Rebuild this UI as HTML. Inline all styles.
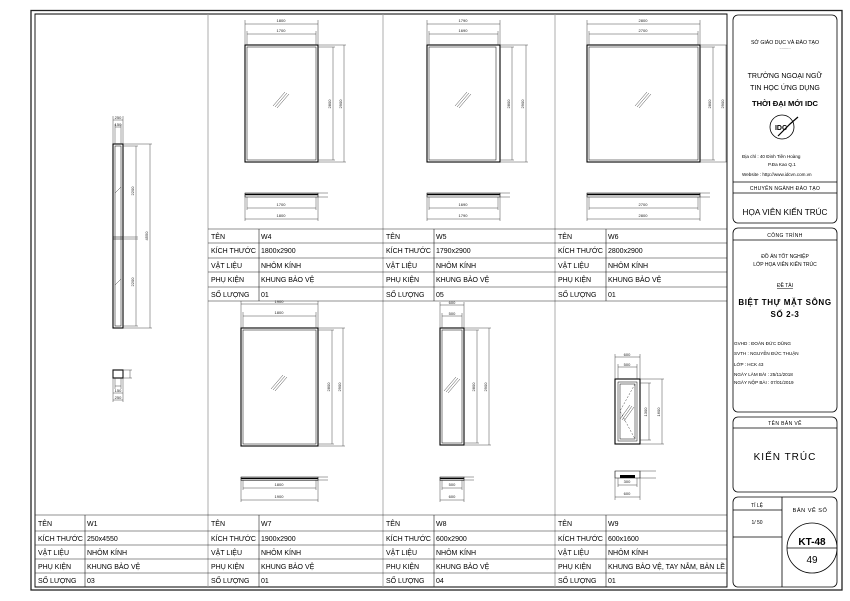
<!DOCTYPE html>
<html><head><meta charset="utf-8"><style>
html,body{margin:0;padding:0;background:#fff}
svg{display:block}
text{font-family:"Liberation Sans",sans-serif;fill:#000}
.t{font-size:7px}
.dm{font-size:4px;fill:#222}
.d{stroke:#333;stroke-width:.45;fill:none}
.f{stroke:#000;stroke-width:1.1;fill:none}
.fi{stroke:#000;stroke-width:.5;fill:none}
.g{stroke:#999;stroke-width:.8;fill:none}
.tl{stroke:#222;stroke-width:.6;fill:none}
.tb{stroke:#000;stroke-width:.9;fill:none}
</style></head><body>
<svg width="850" height="601" viewBox="0 0 850 601" xmlns="http://www.w3.org/2000/svg">
<rect x="0" y="0" width="850" height="601" fill="#fff"/>
<rect x="31" y="10.5" width="811" height="579.5" fill="none" stroke="#222" stroke-width="1.3"/>
<path d="M35 587 V14 H727 V587 Z" class="tb"/>
<path d="M208 14V587 M383 14V587 M555 14V587" class="g"/>
<path d="M208 229H727 M208 243H727 M208 258H727 M208 272H727 M208 287H727 M208 301H727 M259 229V301 M434 229V301 M606 229V301" class="tl"/>
<path d="M35 515H727 M35 531H727 M35 545H727 M35 559H727 M35 573H727 M85 515V587 M259 515V587 M434 515V587 M606 515V587" class="tl"/>
<g class="t">
<text x="211" y="239">TÊN</text><text x="261" y="239">W4</text>
<text x="211" y="253">KÍCH THƯỚC</text><text x="261" y="253">1800x2900</text>
<text x="211" y="268">VẬT LIỆU</text><text x="261" y="268">NHÔM KÍNH</text>
<text x="211" y="282">PHỤ KIỆN</text><text x="261" y="282">KHUNG BẢO VỆ</text>
<text x="211" y="297">SỐ LƯỢNG</text><text x="261" y="297">01</text>
<text x="386" y="239">TÊN</text><text x="436" y="239">W5</text>
<text x="386" y="253">KÍCH THƯỚC</text><text x="436" y="253">1790x2900</text>
<text x="386" y="268">VẬT LIỆU</text><text x="436" y="268">NHÔM KÍNH</text>
<text x="386" y="282">PHỤ KIỆN</text><text x="436" y="282">KHUNG BẢO VỆ</text>
<text x="386" y="297">SỐ LƯỢNG</text><text x="436" y="297">05</text>
<text x="558" y="239">TÊN</text><text x="608" y="239">W6</text>
<text x="558" y="253">KÍCH THƯỚC</text><text x="608" y="253">2800x2900</text>
<text x="558" y="268">VẬT LIỆU</text><text x="608" y="268">NHÔM KÍNH</text>
<text x="558" y="282">PHỤ KIỆN</text><text x="608" y="282">KHUNG BẢO VỆ</text>
<text x="558" y="297">SỐ LƯỢNG</text><text x="608" y="297">01</text>

<text x="38" y="526">TÊN</text><text x="87" y="526">W1</text>
<text x="38" y="541">KÍCH THƯỚC</text><text x="87" y="541">250x4550</text>
<text x="38" y="555">VẬT LIỆU</text><text x="87" y="555">NHÔM KÍNH</text>
<text x="38" y="569">PHỤ KIỆN</text><text x="87" y="569">KHUNG BẢO VỆ</text>
<text x="38" y="583">SỐ LƯỢNG</text><text x="87" y="583">03</text>
<text x="211" y="526">TÊN</text><text x="261" y="526">W7</text>
<text x="211" y="541">KÍCH THƯỚC</text><text x="261" y="541">1900x2900</text>
<text x="211" y="555">VẬT LIỆU</text><text x="261" y="555">NHÔM KÍNH</text>
<text x="211" y="569">PHỤ KIỆN</text><text x="261" y="569">KHUNG BẢO VỆ</text>
<text x="211" y="583">SỐ LƯỢNG</text><text x="261" y="583">01</text>
<text x="386" y="526">TÊN</text><text x="436" y="526">W8</text>
<text x="386" y="541">KÍCH THƯỚC</text><text x="436" y="541">600x2900</text>
<text x="386" y="555">VẬT LIỆU</text><text x="436" y="555">NHÔM KÍNH</text>
<text x="386" y="569">PHỤ KIỆN</text><text x="436" y="569">KHUNG BẢO VỆ</text>
<text x="386" y="583">SỐ LƯỢNG</text><text x="436" y="583">04</text>
<text x="558" y="526">TÊN</text><text x="608" y="526">W9</text>
<text x="558" y="541">KÍCH THƯỚC</text><text x="608" y="541">600x1600</text>
<text x="558" y="555">VẬT LIỆU</text><text x="608" y="555">NHÔM KÍNH</text>
<text x="558" y="569">PHỤ KIỆN</text><text x="608" y="569" textLength="117" lengthAdjust="spacingAndGlyphs">KHUNG BẢO VỆ, TAY NẮM, BẢN LỀ</text>
<text x="558" y="583">SỐ LƯỢNG</text><text x="608" y="583">01</text>
</g>

<!-- W4 -->
<rect x="245" y="45" width="73" height="117" class="f"/><rect x="247" y="47" width="69" height="113" class="fi"/>
<path d="M275 107L287 93 M277 108L289 94 M273 106L285 92" class="d"/>
<path d="M245 20V45 M318 20V45 M247 31V45 M316 31V45 M245 24H318 M247 34H316 M318 45H346 M318 47H335 M318 160H335 M318 162H346 M333 47V160 M344 45V162" class="d"/>
<text class="dm" x="281" y="22" text-anchor="middle">1800</text><text class="dm" x="281" y="32" text-anchor="middle">1700</text>
<text class="dm" x="331" y="104" text-anchor="middle" transform="rotate(-90 331 104)">2800</text><text class="dm" x="342" y="104" text-anchor="middle" transform="rotate(-90 342 104)">2900</text>
<rect x="245" y="193" width="73" height="4" class="fi"/><path d="M245 194.5H318" stroke="#000" stroke-width="1.5"/>
<path d="M245 193V221 M318 193V221 M247 197V210 M316 197V210 M247 208H316 M245 219H318 M318 193H328 M318 197H328" class="d"/>
<text class="dm" x="281" y="206" text-anchor="middle">1700</text><text class="dm" x="281" y="217" text-anchor="middle">1800</text>

<!-- W5 -->
<rect x="427" y="45" width="73" height="117" class="f"/><rect x="429" y="47" width="67" height="113" class="fi"/>
<path d="M457 107L469 93 M459 108L471 94 M455 106L467 92" class="d"/>
<path d="M427 20V45 M500 20V45 M429 31V45 M498 31V45 M427 24H500 M429 34H498 M500 45H528 M500 47H514 M500 160H514 M500 162H528 M512 47V160 M526 45V162" class="d"/>
<text class="dm" x="463" y="22" text-anchor="middle">1790</text><text class="dm" x="463" y="32" text-anchor="middle">1690</text>
<text class="dm" x="510" y="104" text-anchor="middle" transform="rotate(-90 510 104)">2800</text><text class="dm" x="524" y="104" text-anchor="middle" transform="rotate(-90 524 104)">2900</text>
<rect x="427" y="193" width="73" height="4" class="fi"/><path d="M427 194.5H500" stroke="#000" stroke-width="1.5"/>
<path d="M427 193V221 M500 193V221 M429 197V210 M498 197V210 M429 208H498 M427 219H500 M500 193H510 M500 197H510" class="d"/>
<text class="dm" x="463" y="206" text-anchor="middle">1690</text><text class="dm" x="463" y="217" text-anchor="middle">1790</text>

<!-- W6 -->
<rect x="587" y="45" width="113" height="117" class="f"/><rect x="589" y="47" width="109" height="113" class="fi"/>
<path d="M637 107L649 93 M639 108L651 94 M635 106L647 92" class="d"/>
<path d="M587 20V45 M700 20V45 M589 31V45 M698 31V45 M587 24H700 M589 34H698 M700 45H727 M700 47H715 M700 160H715 M700 162H727 M713 47V160 M726 45V162" class="d"/>
<text class="dm" x="643" y="22" text-anchor="middle">2800</text><text class="dm" x="643" y="32" text-anchor="middle">2700</text>
<text class="dm" x="711" y="104" text-anchor="middle" transform="rotate(-90 711 104)">2800</text><text class="dm" x="724" y="104" text-anchor="middle" transform="rotate(-90 724 104)">2900</text>
<rect x="587" y="193" width="113" height="4" class="fi"/><path d="M587 194.5H700" stroke="#000" stroke-width="1.5"/>
<path d="M587 193V221 M700 193V221 M589 197V210 M698 197V210 M589 208H698 M587 219H700 M700 193H710 M700 197H710" class="d"/>
<text class="dm" x="643" y="206" text-anchor="middle">2700</text><text class="dm" x="643" y="217" text-anchor="middle">2800</text>

<!-- W7 -->
<rect x="241" y="328" width="77" height="118" class="f"/><rect x="243" y="330" width="73" height="114" class="fi"/>
<path d="M273 390L285 376 M275 391L287 377 M271 389L283 375" class="d"/>
<path d="M241 301V328 M318 301V328 M243 312V328 M316 312V328 M241 304H318 M243 316H316 M318 328H345 M318 330H334 M318 444H334 M318 446H345 M332 330V444 M343 328V446" class="d"/>
<text class="dm" x="279" y="303" text-anchor="middle">1900</text><text class="dm" x="279" y="314" text-anchor="middle">1800</text>
<text class="dm" x="330" y="387" text-anchor="middle" transform="rotate(-90 330 387)">2800</text><text class="dm" x="341" y="387" text-anchor="middle" transform="rotate(-90 341 387)">2900</text>
<rect x="241" y="477" width="77" height="3.5" class="fi"/><path d="M241 478.5H318" stroke="#000" stroke-width="1.5"/>
<path d="M241 477V502 M318 477V502 M243 480V490 M316 480V490 M243 488H316 M241 500H318 M318 477H328 M318 480H328" class="d"/>
<text class="dm" x="279" y="486" text-anchor="middle">1800</text><text class="dm" x="279" y="498" text-anchor="middle">1900</text>

<!-- W8 -->
<rect x="440" y="328" width="24" height="117" class="f"/><rect x="442" y="330" width="20" height="113" class="fi"/>
<path d="M446 392L458 378 M448 393L460 379 M444 391L456 377" class="d"/>
<path d="M440 302V328 M464 302V328 M442 313V328 M462 313V328 M440 305H464 M442 316H462 M464 328H491 M464 330H479 M464 443H479 M464 445H491 M477 330V443 M489 328V445" class="d"/>
<text class="dm" x="452" y="304" text-anchor="middle">600</text><text class="dm" x="452" y="315" text-anchor="middle">500</text>
<text class="dm" x="475" y="387" text-anchor="middle" transform="rotate(-90 475 387)">2800</text><text class="dm" x="487" y="387" text-anchor="middle" transform="rotate(-90 487 387)">2900</text>
<rect x="440" y="477" width="24" height="3.5" class="fi"/><path d="M440 478.5H464" stroke="#000" stroke-width="1.5"/>
<path d="M440 477V502 M464 477V502 M442 480V490 M462 480V490 M442 488H462 M440 500H464 M464 477H474 M464 480H474" class="d"/>
<text class="dm" x="452" y="486" text-anchor="middle">500</text><text class="dm" x="452" y="498" text-anchor="middle">600</text>

<!-- W9 -->
<rect x="615" y="379" width="25" height="65" class="f"/><rect x="618" y="382" width="19" height="59" class="fi"/><rect x="620" y="384" width="15" height="55" class="fi"/>
<path d="M635 384L620 411L635 439" class="d" stroke-dasharray="2 1.5"/>
<path d="M622 420L632 406 M624 421L634 407 M620 419L630 405" class="d"/>
<path d="M615 354V379 M640 354V379 M618 364V379 M637 364V379 M615 357H640 M618 367H637 M640 379H664 M640 383H651 M640 440H651 M640 444H664 M649 383V440 M662 379V444" class="d"/>
<text class="dm" x="627" y="356" text-anchor="middle">600</text><text class="dm" x="627" y="366" text-anchor="middle">500</text>
<text class="dm" x="647" y="412" text-anchor="middle" transform="rotate(-90 647 412)">1300</text><text class="dm" x="660" y="412" text-anchor="middle" transform="rotate(-90 660 412)">1600</text>
<rect x="615" y="471" width="25" height="7" class="fi"/><rect x="620" y="475" width="15" height="3" fill="#000"/>
<path d="M615 471V500 M640 471V500 M618 478V487 M637 478V487 M618 485H637 M615 497H640 M640 471H656 M640 478H656" class="d"/>
<text class="dm" x="627" y="483" text-anchor="middle">300</text><text class="dm" x="627" y="495" text-anchor="middle">600</text>

<!-- W1 -->
<rect x="113" y="144" width="10" height="184" class="f"/><rect x="115" y="146" width="6" height="180" class="fi"/>
<path d="M113 237H123 M113 239H123" class="fi"/>
<path d="M115 193L121 187 M115 285L121 279" class="d"/>
<path d="M113 116V144 M123 116V144 M115 124V144 M121 124V144 M113 120H123 M115 127H121 M123 144H152 M123 146H138 M123 237H138 M123 239H138 M123 326H138 M123 328H152 M136 146V326 M150 144V328" class="d"/>
<text class="dm" x="118" y="119" text-anchor="middle">250</text><text class="dm" x="118" y="126" text-anchor="middle">150</text>
<text class="dm" x="134" y="191" text-anchor="middle" transform="rotate(-90 134 191)">2200</text><text class="dm" x="134" y="282" text-anchor="middle" transform="rotate(-90 134 282)">2200</text>
<text class="dm" x="148" y="236" text-anchor="middle" transform="rotate(-90 148 236)">4550</text>
<rect x="113" y="370" width="10" height="8" class="f"/>
<path d="M113 370V402 M123 370V402 M115 378V389 M121 378V389 M115 386H121 M113 393H123 M113 400H123 M123 370H132 M123 378H132 M130 370V378" class="d"/>
<text class="dm" x="118" y="392" text-anchor="middle">150</text><text class="dm" x="118" y="399" text-anchor="middle">250</text>

<!-- Title block -->
<g fill="none" stroke="#000" stroke-width=".8">
<rect x="733" y="15" width="104" height="208" rx="5"/>
<rect x="733" y="228" width="104" height="184" rx="5"/>
<rect x="733" y="417" width="104" height="75" rx="5"/>
<rect x="733" y="497" width="104" height="90" rx="5"/>
<path d="M733 182H837 M733 193H837 M733 240H837 M733 428H837 M782 497V587 M733 510H782 M733 537H782"/>
<circle cx="812" cy="548" r="25"/>
<path d="M787 548H837"/>
<circle cx="782" cy="127" r="12"/>
<path d="M778 136L790 124L798 117" stroke-width="1.2"/>
</g>
<g text-anchor="middle">
<text x="785" y="44" font-size="5.2">SỞ GIÁO DỤC VÀ ĐÀO TẠO</text>
<text x="785" y="49" font-size="4">..........</text>
<text x="785" y="78" font-size="7">TRƯỜNG NGOẠI NGỮ</text>
<text x="785" y="90" font-size="7">TIN HỌC ỨNG DỤNG</text>
<text x="785" y="106" font-size="7.6" font-weight="bold">THỜI ĐẠI MỚI IDC</text>
<text x="781" y="130" font-size="7" font-weight="bold" font-family="Liberation Serif">IDC</text>
<text x="785" y="190" font-size="5" letter-spacing=".3">CHUYÊN NGÀNH ĐÀO TẠO</text>
<text x="785" y="215" font-size="8.2">HỌA VIÊN KIẾN TRÚC</text>
<text x="785" y="237" font-size="5" letter-spacing=".4">CÔNG TRÌNH</text>
<text x="785" y="258" font-size="5">ĐỒ ÁN TỐT NGHIỆP</text>
<text x="785" y="266" font-size="5">LỚP HỌA VIÊN KIẾN TRÚC</text>
<text x="785" y="287" font-size="5" text-decoration="underline">ĐỀ TÀI</text>
<text x="785" y="305" font-size="8" font-weight="bold" letter-spacing=".6">BIỆT THỰ MẶT SÔNG</text>
<text x="785" y="317" font-size="8" font-weight="bold" letter-spacing=".6">SỐ 2-3</text>
<text x="785" y="425" font-size="5" letter-spacing=".4">TÊN BẢN VẼ</text>
<text x="785" y="460" font-size="10" letter-spacing="1">KIẾN TRÚC</text>
<text x="757" y="507" font-size="5">TỈ LỆ</text>
<text x="757" y="524" font-size="5">1/ 50</text>
<text x="810" y="512" font-size="5.6" letter-spacing=".5">BẢN VẼ SỐ</text>
<text x="812" y="545" font-size="10" font-weight="bold">KT-48</text>
<text x="812" y="563" font-size="10">49</text>
</g>
<g font-size="4.6">
<text x="742" y="158">Địa chỉ  : 40 Đinh Tiên Hoàng</text>
<text x="768" y="166">P.Đa Kao     Q.1</text>
<text x="742" y="176">Website : http://www.idcvn.com.vn</text>
<text x="734" y="345">GVHD   : ĐOÀN ĐỨC DŨNG</text>
<text x="734" y="355">SVTH   : NGUYỄN ĐỨC THUẬN</text>
<text x="734" y="366">LỚP      : HCK 43</text>
<text x="734" y="376">NGÀY LÀM BÀI   :  25/11/2018</text>
<text x="734" y="384">NGÀY NỘP BÀI   :  07/01/2019</text>
</g>
</svg>
</body></html>
